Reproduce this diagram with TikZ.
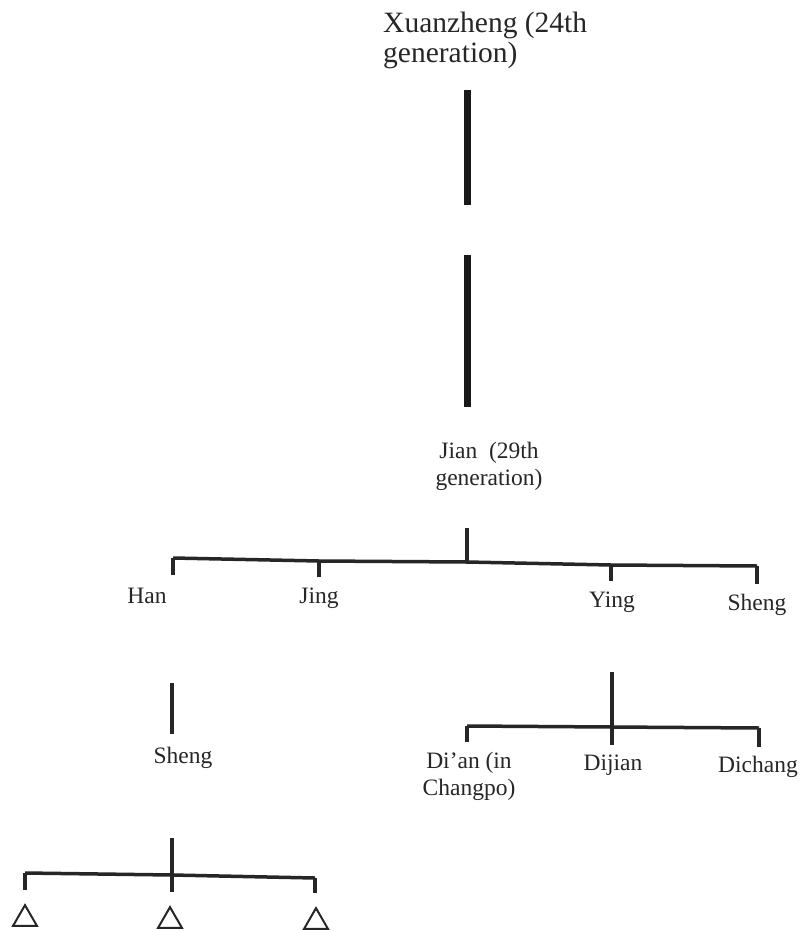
\documentclass[tikz,border=0pt]{standalone}
\usepackage{fontspec}
\setmainfont{Liberation Serif}
\usepackage{tikz}
\usetikzlibrary{shapes}

\tikzset{
    person/.style={inner sep=0pt, text=black!85, font=\fontsize{23.5}{27}\selectfont},
    top person/.style={inner sep=0pt, text=black!85, font=\fontsize{29.5}{30}\selectfont},
    trunk/.style={line width=7pt, draw=black!90},
    branch/.style={line width=3.5pt, draw=black!85},
    child/.style={draw=black!85, line width=2pt, regular polygon, regular polygon sides=3, minimum size=27.7pt, inner sep=0pt}
}

\begin{document}
\begin{tikzpicture}[x=1pt, y=-1pt]
        \useasboundingbox (0,0) rectangle (802,931);
        \node [top person, anchor=base west, align=left] (xuan) at (383,63) {Xuanzheng (24th\\generation)};
        \node [person, anchor=base, align=center] (jian) at (489,485) {Jian\ \ (29th\\generation)};
        \node [person, anchor=base] (han) at (147,603) {Han};
        \node [person, anchor=base] (jing) at (319,603) {Jing};
        \node [person, anchor=base] (ying) at (612,607) {Ying};
        \node [person, anchor=base] (sheng) at (757,610) {Sheng};
        \node [person, anchor=base] (hansheng) at (183,763) {Sheng};
        \node [person, anchor=base, align=center] (dian) at (469,795) {Di’an (in\\Changpo)};
        \node [person, anchor=base] (dijian) at (613,770) {Dijian};
        \node [person, anchor=base] (dichang) at (758,772) {Dichang};
        \node [child] (c1) at (25,919) {};
        \node [child] (c2) at (170,921) {};
        \node [child] (c3) at (316,922) {};
        % joints
        \coordinate (jianJ) at (467,562);
        \coordinate (hanJ) at (173,558);
        \coordinate (jingJ) at (319,561);
        \coordinate (yingJ) at (611,565);
        \coordinate (shengJ) at (757,566);
        \coordinate (yingK) at (612,727);
        \coordinate (dianJ) at (467,726);
        \coordinate (dichangJ) at (759,728);
        \coordinate (hanK) at (172,875);
        \coordinate (c1J) at (25,873);
        \coordinate (c3J) at (315,878);
        \draw [trunk] (467,90) -- (467,205);
        \draw [trunk] (467,255) -- (467,407);
        \draw [branch] (467,528) -- (jianJ);
        \draw [branch] (hanJ) -- (jingJ) -- (jianJ) -- (yingJ) -- (shengJ);
        \draw [branch] (hanJ) -- ++(0,17);
        \draw [branch] (jingJ) -- ++(0,16);
        \draw [branch] (yingJ) -- ++(0,16);
        \draw [branch] (shengJ) -- ++(0,18);
        \draw [branch] (172,683) -- (172,734);
        \draw [branch] (612,672) -- (yingK) -- ++(0,18);
        \draw [branch] (dianJ) -- (yingK) -- (dichangJ);
        \draw [branch] (dianJ) -- ++(0,16);
        \draw [branch] (dichangJ) -- ++(0,19);
        \draw [branch] (172,838) -- (hanK) -- ++(0,17);
        \draw [branch] (c1J) -- (hanK) -- (c3J);
        \draw [branch] (c1J) -- ++(0,17);
        \draw [branch] (c3J) -- ++(0,15);
    \end{tikzpicture}
\end{document}
